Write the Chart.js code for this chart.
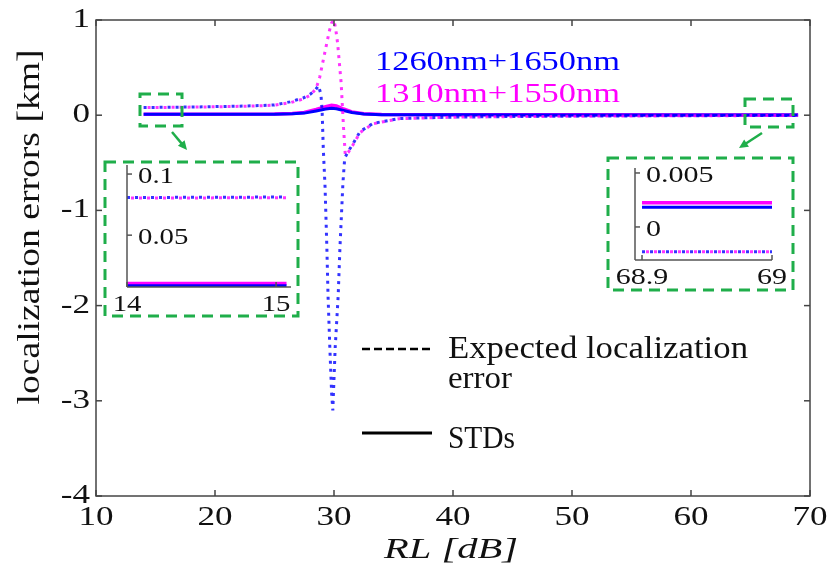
<!DOCTYPE html>
<html>
<head>
<meta charset="utf-8">
<script src="https://cdn.jsdelivr.net/npm/chart.js@4.4.1/dist/chart.umd.min.js"></script>
<style>
  body { margin: 0; background: #fff; }
  #wrap { position: relative; width: 829px; height: 571px; }
  canvas { position: absolute; }
</style>
</head>
<body>
<div id="wrap">
  <canvas id="mainChart" width="829" height="571" style="left:0;top:0"></canvas>
  <canvas id="insetLeft" width="204" height="164" style="left:100px;top:158px"></canvas>
  <canvas id="insetRight" width="194" height="140" style="left:604px;top:155px"></canvas>
</div>
<script>
// main axes ticks
const mainXTicks = [10, 20, 30, 40, 50, 60, 70];
const mainYTicks = [-4, -3, -2, -1, 0, 1];

// expected localization error, 1260nm+1650nm (blue dotted)
const rlBlueExp = [14, 16, 18, 20, 22, 24, 25, 26.3, 27.4, 28, 28.4, 28.7, 28.9, 29.0, 29.1, 29.25, 29.4, 29.5, 29.65, 29.8, 29.9, 30.1, 30.35, 30.5, 30.75, 30.9, 31.2, 31.6, 32.2, 33.3, 35.5, 40, 45, 50, 55, 60, 65, 69];
const errBlueExp = [0.081, 0.083, 0.086, 0.09, 0.095, 0.102, 0.108, 0.14, 0.18, 0.22, 0.26, 0.31, 0.22, 0.05, -0.35, -0.76, -1.39, -1.9, -2.44, -2.92, -3.1, -2.44, -1.9, -1.39, -0.71, -0.45, -0.38, -0.3, -0.17, -0.085, -0.035, -0.02, -0.014, -0.01, -0.007, -0.005, -0.0035, -0.0023];

// expected localization error, 1310nm+1550nm (magenta dotted)
const rlPinkExp = [14, 16, 18, 20, 22, 24, 25, 26.3, 27.4, 28, 28.5, 28.8, 29.1, 29.4, 29.6, 29.8, 30.0, 30.15, 30.3, 30.45, 30.6, 30.8, 30.95, 31.2, 31.6, 32.2, 33.3, 35.5, 40, 45, 50, 55, 60, 65, 69];
const errPinkExp = [0.080, 0.082, 0.085, 0.088, 0.093, 0.1, 0.106, 0.13, 0.17, 0.21, 0.28, 0.4, 0.58, 0.76, 0.88, 0.97, 1.0, 0.9, 0.76, 0.55, 0.34, -0.13, -0.42, -0.39, -0.31, -0.18, -0.09, -0.036, -0.021, -0.015, -0.011, -0.008, -0.006, -0.004, -0.0023];

// STDs (solid)
const rlStd = [14, 20, 25, 26.5, 27.5, 28.5, 29.3, 29.8, 30.2, 30.8, 31.5, 32.5, 34, 40, 50, 60, 69];
const stdBlue = [0.0087, 0.009, 0.01, 0.014, 0.022, 0.045, 0.065, 0.072, 0.068, 0.05, 0.028, 0.012, 0.006, 0.004, 0.003, 0.0022, 0.0018];
const stdPink = [0.0104, 0.011, 0.012, 0.017, 0.028, 0.06, 0.09, 0.105, 0.098, 0.065, 0.035, 0.015, 0.008, 0.005, 0.0035, 0.0027, 0.00225];

// left inset (RL 14..15)
const insetLX = [14, 15.07];
const insetLBlueExp = [0.0808, 0.0812];
const insetLPinkExp = [0.0804, 0.0806];
const insetLBlueStd = [0.0087, 0.0087];
const insetLPinkStd = [0.0104, 0.0104];
const insetLXTicks = [14, 15];
const insetLYTicks = [0.05, 0.1];

// right inset (RL 68.9..69)
const insetRX = [68.9, 69];
const insetRBlueExp = [-0.00229, -0.00229];
const insetRPinkExp = [-0.00229, -0.00229];
const insetRBlueStd = [0.00182, 0.00182];
const insetRPinkStd = [0.00225, 0.00225];
const insetRXTicks = [68.9, 69];
const insetRYTicks = [0, 0.005];

const BLUE = '#0000ff', PINK = '#ff00ff', GREEN = '#1fae4a';
const SERIF = "'Liberation Serif', 'Times New Roman', serif";

function pts(xs, ys) { return xs.map((x, i) => ({ x: x, y: ys[i] })); }

function drawText(ctx, text, x, y, o) {
  ctx.save();
  ctx.font = o.font;
  ctx.fillStyle = o.color || '#111';
  const w = ctx.measureText(text).width;
  const s = o.width ? o.width / w : (o.sx || 1);
  ctx.translate(x, y);
  if (o.rotate) ctx.rotate(-Math.PI / 2);
  ctx.scale(s, 1);
  ctx.textAlign = o.align || 'left';
  ctx.textBaseline = o.baseline || 'middle';
  ctx.fillText(text, 0, 0);
  ctx.restore();
}

function line(ctx, x1, y1, x2, y2) {
  ctx.beginPath(); ctx.moveTo(x1, y1); ctx.lineTo(x2, y2); ctx.stroke();
}

function dashedBox(ctx, x1, y1, x2, y2) {
  ctx.save();
  ctx.strokeStyle = GREEN; ctx.lineWidth = 3; ctx.setLineDash([11, 7]);
  ctx.strokeRect(x1, y1, x2 - x1, y2 - y1);
  ctx.restore();
}

function arrow(ctx, x1, y1, x2, y2) {
  ctx.save();
  ctx.strokeStyle = GREEN; ctx.fillStyle = GREEN; ctx.lineWidth = 2.5;
  const a = Math.atan2(y2 - y1, x2 - x1);
  line(ctx, x1, y1, x2 - 6 * Math.cos(a), y2 - 6 * Math.sin(a));
  ctx.beginPath();
  ctx.moveTo(x2, y2);
  ctx.lineTo(x2 - 10 * Math.cos(a - 0.45), y2 - 10 * Math.sin(a - 0.45));
  ctx.lineTo(x2 - 10 * Math.cos(a + 0.45), y2 - 10 * Math.sin(a + 0.45));
  ctx.closePath(); ctx.fill();
  ctx.restore();
}

function useTicks(values) {
  return function (scale) { scale.ticks = values.map(v => ({ value: v })); };
}

function seriesSet(blueExpX, blueExp, pinkExpX, pinkExp, stdX, bStd, pStd) {
  return [
    { data: pts(blueExpX, blueExp), borderColor: 'rgba(0,0,255,0.8)', borderWidth: 3, borderDash: [3, 5] },
    { data: pts(pinkExpX, pinkExp), borderColor: 'rgba(255,0,255,0.8)', borderWidth: 3, borderDash: [3, 5], borderDashOffset: 4 },
    { data: pts(stdX, bStd), borderColor: BLUE, borderWidth: 3 },
    { data: pts(stdX, pStd), borderColor: PINK, borderWidth: 3.5 }
  ];
}

const commonOpts = {
  responsive: false,
  animation: false,
  plugins: { legend: { display: false }, tooltip: { enabled: false } },
  elements: { point: { radius: 0 }, line: { tension: 0, borderCapStyle: 'butt' } }
};

// ---------- main chart ----------
const mainDecor = {
  id: 'mainDecor',
  afterDraw(chart) {
    const { ctx, chartArea: a, scales: { x, y } } = chart;
    ctx.save();
    ctx.strokeStyle = '#444'; ctx.lineWidth = 1.5;
    ctx.strokeRect(a.left, a.top, a.right - a.left, a.bottom - a.top);
    x.ticks.forEach(t => {
      const px = x.getPixelForValue(t.value);
      line(ctx, px, a.bottom, px, a.bottom - 6);
      line(ctx, px, a.top, px, a.top + 6);
      drawText(ctx, String(t.value), px, a.bottom + 22, { font: '27px ' + SERIF, align: 'center', sx: 1.3 });
    });
    y.ticks.forEach(t => {
      const py = y.getPixelForValue(t.value);
      line(ctx, a.left, py, a.left + 6, py);
      line(ctx, a.right, py, a.right - 6, py);
      drawText(ctx, String(t.value), a.left - 6, py, { font: '27px ' + SERIF, align: 'right', sx: 1.3 });
    });
    ctx.restore();

    // axis titles
    drawText(ctx, 'localization errors [km]', 31, 227, { font: '32px ' + SERIF, align: 'center', rotate: true, width: 355 });
    drawText(ctx, 'RL [dB]', 451, 550, { font: 'italic 29px ' + SERIF, align: 'center', width: 134 });

    // series labels
    drawText(ctx, '1260nm+1650nm', 375, 70, { font: '27px ' + SERIF, color: BLUE, baseline: 'alphabetic', width: 245 });
    drawText(ctx, '1310nm+1550nm', 375, 102, { font: '27px ' + SERIF, color: PINK, baseline: 'alphabetic', width: 245 });

    // line-style legend
    ctx.save();
    ctx.strokeStyle = '#000'; ctx.lineWidth = 2.5; ctx.setLineDash([8, 4]);
    line(ctx, 362, 349, 432, 349);
    ctx.setLineDash([]); ctx.lineWidth = 3;
    line(ctx, 362, 433, 432, 433);
    ctx.restore();
    drawText(ctx, 'Expected localization', 448, 358, { font: '32px ' + SERIF, baseline: 'alphabetic', width: 300 });
    drawText(ctx, 'error', 448, 388, { font: '32px ' + SERIF, baseline: 'alphabetic', width: 64 });
    drawText(ctx, 'STDs', 448, 448, { font: '32px ' + SERIF, baseline: 'alphabetic', width: 67 });

    // zoom boxes and arrows
    dashedBox(ctx, 140, 94, 182, 126);
    dashedBox(ctx, 745, 99, 793, 127);
    dashedBox(ctx, 105, 162, 298, 316);
    dashedBox(ctx, 608, 158, 793, 290);
    arrow(ctx, 172, 132, 187, 150);
    arrow(ctx, 762, 133, 739, 148);
  }
};

// ---------- insets ----------
function insetDecor(fontPx) {
  return {
    id: 'insetDecor',
    afterDraw(chart) {
      const { ctx, chartArea: a, scales: { x, y } } = chart;
      ctx.save();
      ctx.strokeStyle = '#555'; ctx.lineWidth = 1.5;
      line(ctx, a.left, a.top, a.left, a.bottom);
      line(ctx, a.left, a.bottom, a.right, a.bottom);
      x.ticks.forEach(t => {
        const px = x.getPixelForValue(t.value);
        line(ctx, px, a.bottom, px, a.bottom - 5);
        drawText(ctx, String(t.value), px, a.bottom + 18, { font: fontPx + 'px ' + SERIF, align: 'center', sx: 1.25 });
      });
      y.ticks.forEach(t => {
        const py = y.getPixelForValue(t.value);
        line(ctx, a.left, py, a.left + 5, py);
        drawText(ctx, String(t.value), a.left + 11, py + 3, { font: fontPx + 'px ' + SERIF, align: 'left', sx: 1.25 });
      });
      ctx.restore();
    }
  };
}

function insetChart(id, xs, bE, pE, bS, pS, xr, yr, xt, yt, pad, yW, xH, fontPx) {
  return new Chart(document.getElementById(id), {
    type: 'line',
    data: { datasets: seriesSet(xs, bE, xs, pE, xs, bS, pS) },
    options: Object.assign({}, commonOpts, {
      layout: { padding: pad },
      scales: {
        x: {
          type: 'linear', min: xr[0], max: xr[1],
          afterBuildTicks: useTicks(xt),
          afterFit: s => { s.height = xH; },
          grid: { display: false }, border: { display: false }, ticks: { display: false }
        },
        y: {
          type: 'linear', min: yr[0], max: yr[1],
          afterBuildTicks: useTicks(yt),
          afterFit: s => { s.width = yW; },
          grid: { display: false }, border: { display: false }, ticks: { display: false }
        }
      }
    }),
    plugins: [insetDecor(fontPx)]
  });
}

function build() {
  new Chart(document.getElementById('mainChart'), {
    type: 'line',
    data: { datasets: seriesSet(rlBlueExp, errBlueExp, rlPinkExp, errPinkExp, rlStd, stdBlue, stdPink) },
    options: Object.assign({}, commonOpts, {
      layout: { padding: { top: 20, right: 19, left: 0, bottom: 0 } },
      scales: {
        x: {
          type: 'linear', min: 10, max: 70,
          afterBuildTicks: useTicks(mainXTicks),
          afterFit: s => { s.height = 75; },
          grid: { display: false }, border: { display: false }, ticks: { display: false }
        },
        y: {
          type: 'linear', min: -4, max: 1,
          afterBuildTicks: useTicks(mainYTicks),
          afterFit: s => { s.width = 96; },
          grid: { display: false }, border: { display: false }, ticks: { display: false }
        }
      }
    }),
    plugins: [mainDecor]
  });

  insetChart('insetLeft', insetLX, insetLBlueExp, insetLPinkExp, insetLBlueStd, insetLPinkStd,
    [14, 15.1], [0.0076, 0.1074], insetLXTicks, insetLYTicks,
    { top: 7, right: 13, left: 0, bottom: 0 }, 27, 35, 23);

  insetChart('insetRight', insetRX, insetRBlueExp, insetRPinkExp, insetRBlueStd, insetRPinkStd,
    [68.8946, 69.0], [-0.00306, 0.00546], insetRXTicks, insetRYTicks,
    { top: 13, right: 26, left: 0, bottom: 0 }, 31, 35, 24);
}

Promise.all([
  document.fonts.load("27px 'Liberation Serif'"),
  document.fonts.load("italic 29px 'Liberation Serif'")
]).then(build, build);
</script>
</body>
</html>
